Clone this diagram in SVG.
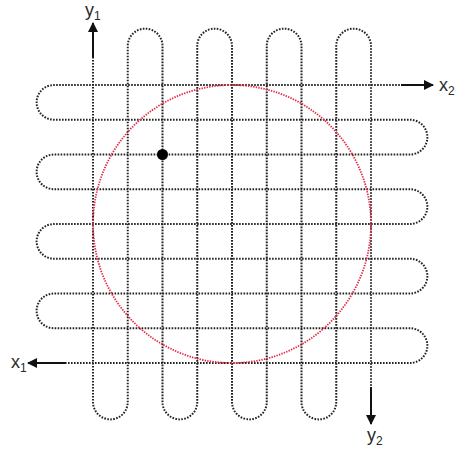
<svg xmlns="http://www.w3.org/2000/svg" width="458" height="450" viewBox="0 0 458 450">
<style>
.dot{fill:none;stroke:#222;stroke-width:2;stroke-dasharray:1.6 1.4}
.red{fill:none;stroke:#e02c44;stroke-width:1.8;stroke-dasharray:1.4 1.2}
.arr{stroke:#111;stroke-width:2;fill:none;marker-end:url(#ah)}
.lbl{font-family:"Liberation Sans",Arial,sans-serif;font-size:18px;fill:#2a2a2a}
.sub{font-size:12px}
</style>
<defs>
<marker id="ah" viewBox="0 0 10 10" refX="9" refY="5" markerWidth="5" markerHeight="5" orient="auto" markerUnits="strokeWidth">
<path d="M0,0 L10,5 L0,10 Z" fill="#111"/>
</marker>
</defs>
<rect width="458" height="450" fill="#fff"/>
<g id="connectors">
<path id="h-serpentine" class="dot" d="M65,363 H410 A17.375,17.375 0 0 0 410,328.25 H54 A17.375,17.375 0 0 1 54,293.5 H410 A17.375,17.375 0 0 0 410,258.75 H54 A17.375,17.375 0 0 1 54,224 H410 A17.375,17.375 0 0 0 410,189.25 H54 A17.375,17.375 0 0 1 54,154.5 H410 A17.375,17.375 0 0 0 410,119.75 H54 A17.375,17.375 0 0 1 54,85 H401"/>
<path id="v-serpentine" class="dot" d="M93,57 V402 A17.375,17.375 0 0 0 127.75,402 V46 A17.375,17.375 0 0 1 162.5,46 V402 A17.375,17.375 0 0 0 197.25,402 V46 A17.375,17.375 0 0 1 232,46 V402 A17.375,17.375 0 0 0 266.75,402 V46 A17.375,17.375 0 0 1 301.5,46 V402 A17.375,17.375 0 0 0 336.25,402 V46 A17.375,17.375 0 0 1 371,46 V387"/>
<line class="arr" x1="93" y1="57" x2="93" y2="23"/>
<line class="arr" x1="401" y1="85" x2="433" y2="85"/>
<line class="arr" x1="65" y1="363" x2="28" y2="363"/>
<line class="arr" x1="371" y1="387" x2="371" y2="424"/>
</g>
<g id="circle">
<circle class="red" cx="232" cy="224" r="139"/>
</g>
<g id="point">
<circle cx="162.5" cy="154.5" r="5.5" fill="#000"/>
</g>
<g id="label-y1"><text class="lbl" x="85" y="16">y<tspan class="sub" dy="4">1</tspan></text></g>
<g id="label-x2"><text class="lbl" x="439" y="91">x<tspan class="sub" dy="4">2</tspan></text></g>
<g id="label-x1"><text class="lbl" x="11" y="368">x<tspan class="sub" dy="4">1</tspan></text></g>
<g id="label-y2"><text class="lbl" x="367" y="441">y<tspan class="sub" dy="4">2</tspan></text></g>
</svg>
